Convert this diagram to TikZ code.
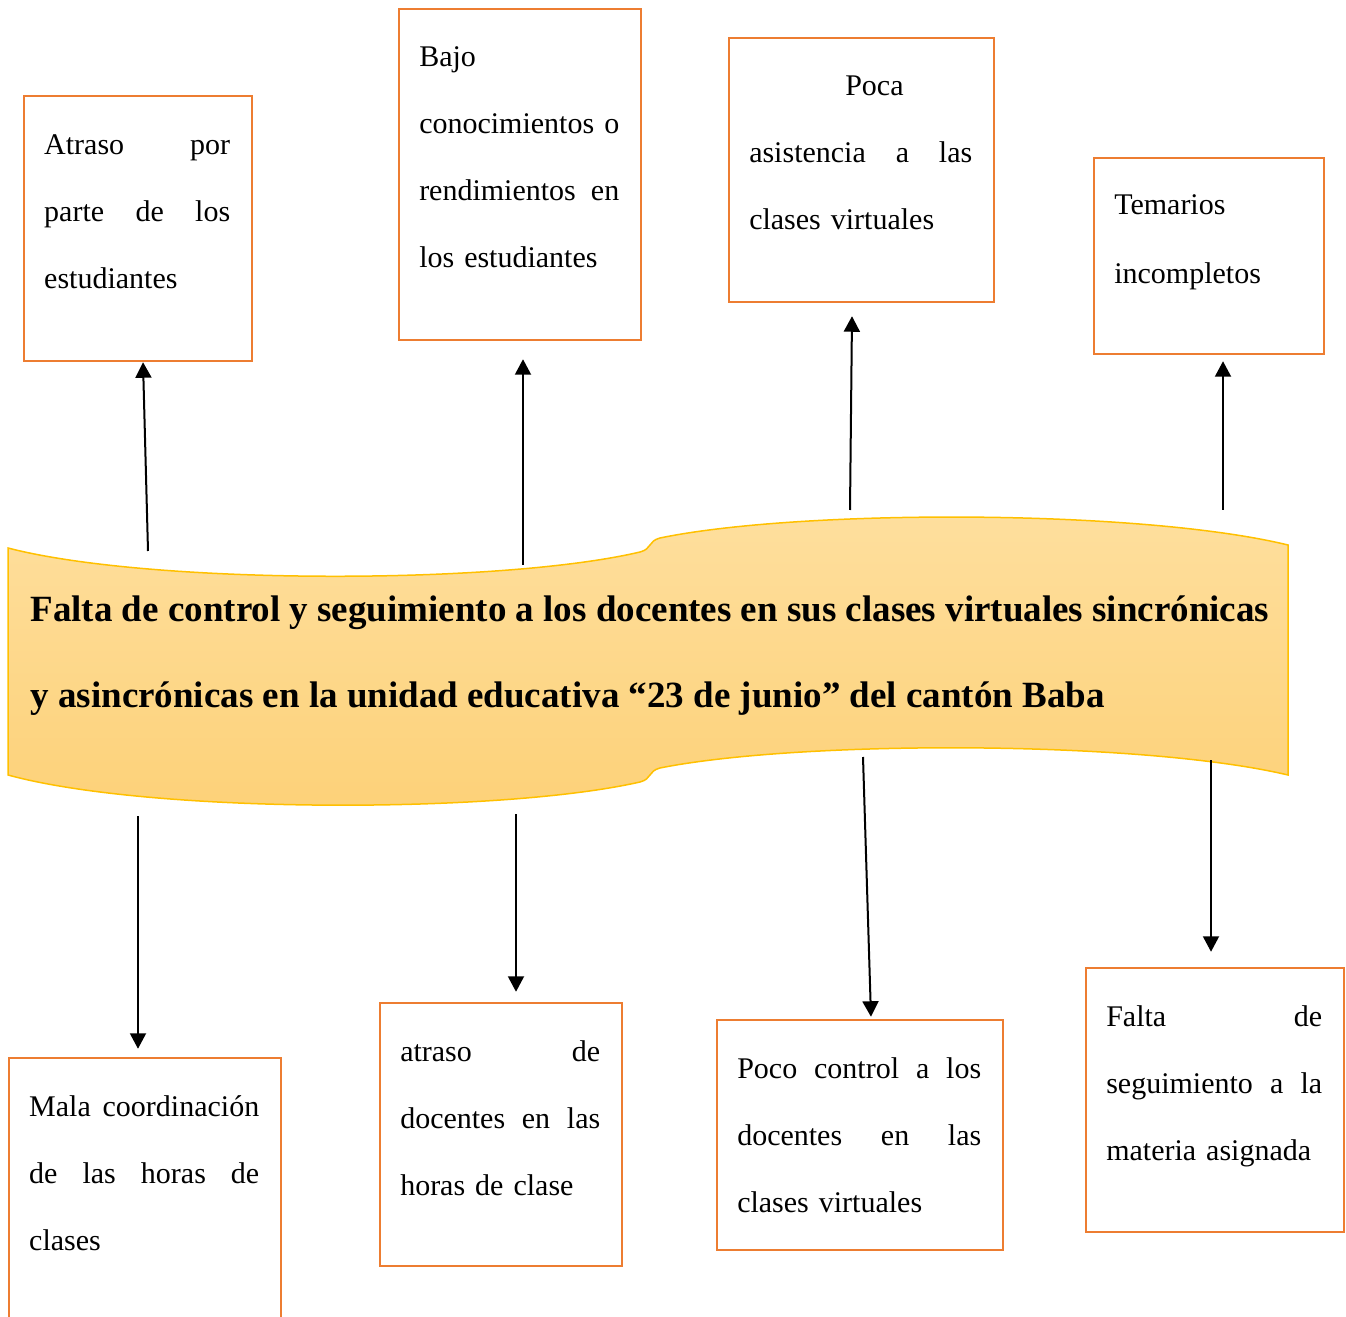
\documentclass[tikz,border=0pt]{standalone}
\usepackage{fontspec}
\setmainfont{Liberation Serif}
\usetikzlibrary{arrows.meta,calc}
\definecolor{naranja}{RGB}{237,125,49}
\definecolor{dorado}{RGB}{255,192,0}
\definecolor{crema}{RGB}{254,223,158}
\definecolor{ambar}{RGB}{253,209,120}
\begin{document}
\begin{tikzpicture}[x=0.4pt,y=-0.4pt,
			caja/.style={draw=naranja, line width=1pt},
			texto/.style={inner sep=0pt, anchor=north west, font=\fontsize{12}{26.8}\selectfont},
			flecha/.style={-{Triangle[width=6.4pt,length=6.2pt]}, line width=0.8pt, black}
			]
			\useasboundingbox (0,0) rectangle (1346,1317);
			% cinta central
			\path[draw=dorado, line width=0.6pt, top color=crema, bottom color=ambar]
				(8,548) .. controls (150,585) and (500,585) .. (640,552)
				.. controls (652,549) and (648,541) .. (660,538)
				.. controls (800,509) and (1140,509) .. (1288,545)
				-- (1288,775)
				.. controls (1140,740) and (800,740) .. (660,768)
				.. controls (648,771) and (652,779) .. (640,782)
				.. controls (500,814) and (150,814) .. (8,775) -- cycle;
			\node[anchor=north west, inner sep=0pt, align=left, font=\bfseries\fontsize{14.8}{34.4}\selectfont] (problema) at (30,595)
				{Falta de control y seguimiento a los docentes en sus clases virtuales sincrónicas\\
				y asincrónicas en la unidad educativa “23 de junio” del cantón Baba};
			% efectos (arriba)
			\node[caja, minimum width=91.2pt, minimum height=106pt] (c1) at (138,228.5) {};
			\node[caja, minimum width=96.8pt, minimum height=132.4pt] (c2) at (520,174.5) {};
			\node[caja, minimum width=106pt, minimum height=105.6pt] (c3) at (861.5,170) {};
			\node[caja, minimum width=92pt, minimum height=78.4pt] (c4) at (1209,256) {};
			\node[texto, text width=74.4pt] (t1) at ($(c1.north west)+(21,39)$) {Atraso\hfill por\\ parte\hfill de\hfill los\\ estudiantes};
			\node[texto, text width=80pt] (t2) at ($(c2.north west)+(21,38)$) {Bajo\\ conocimientos\hfill o\\ rendimientos\hfill en\\ los estudiantes};
			\node[texto, text width=89.2pt] (t3) at ($(c3.north west)+(21,39)$) {\hspace*{38.4pt}Poca\\ asistencia\hfill a\hfill las\\ clases virtuales};
			\node[texto, text width=75.2pt] (t4) at ($(c4.north west)+(21,37)$) {Temarios\\[0.8pt] incompletos};
			% causas (abajo)
			\node[caja, minimum width=108.8pt, minimum height=106.8pt] (c5) at (145,1191.5) {};
			\node[caja, minimum width=96.8pt, minimum height=105.2pt] (c6) at (501,1134.5) {};
			\node[caja, minimum width=114.4pt, minimum height=92pt] (c7) at (860,1135) {};
			\node[caja, minimum width=103.2pt, minimum height=105.6pt] (c8) at (1215,1100) {};
			\node[texto, text width=92pt] (t5) at ($(c5.north west)+(21,38)$) {Mala\hfill coordinación\\ de\hfill las\hfill horas\hfill de\\ clases};
			\node[texto, text width=80pt] (t6) at ($(c6.north west)+(21,38)$) {atraso\hfill de\\ docentes\hfill en\hfill las\\ horas de clase};
			\node[texto, text width=97.6pt] (t7) at ($(c7.north west)+(21,38)$) {Poco\hfill control\hfill a\hfill los\\ docentes\hfill en\hfill las\\ clases virtuales};
			\node[texto, text width=86.4pt] (t8) at ($(c8.north west)+(21,38)$) {Falta\hfill de\\ seguimiento\hfill a\hfill la\\ materia asignada};
			% salidas de las flechas
			\coordinate (s1) at (148,551);
			\coordinate (s2) at (523,565);
			\coordinate (s3) at (850,510);
			\coordinate (s4) at (1223,510);
			\coordinate (e5) at (138,816);
			\coordinate (e6) at (516,814);
			\coordinate (e7) at (863,757);
			\coordinate (e8) at (1211,760);
			\draw[flecha] (s1) -- ($(c1.south)+(5,0)$);
			\draw[flecha] (s2) -- ($(c2.south)+(3,18)$);
			\draw[flecha] (s3) -- ($(c3.south)+(-9.5,13)$);
			\draw[flecha] (s4) -- ($(c4.south)+(14,6)$);
			\draw[flecha] (e5) -- ($(c5.north)+(-7,-8)$);
			\draw[flecha] (e6) -- ($(c6.north)+(15,-10)$);
			\draw[flecha] (e7) -- ($(c7.north)+(11,-2)$);
			\draw[flecha] (e8) -- ($(c8.north)+(-4,-15)$);
		\end{tikzpicture}
\end{document}
